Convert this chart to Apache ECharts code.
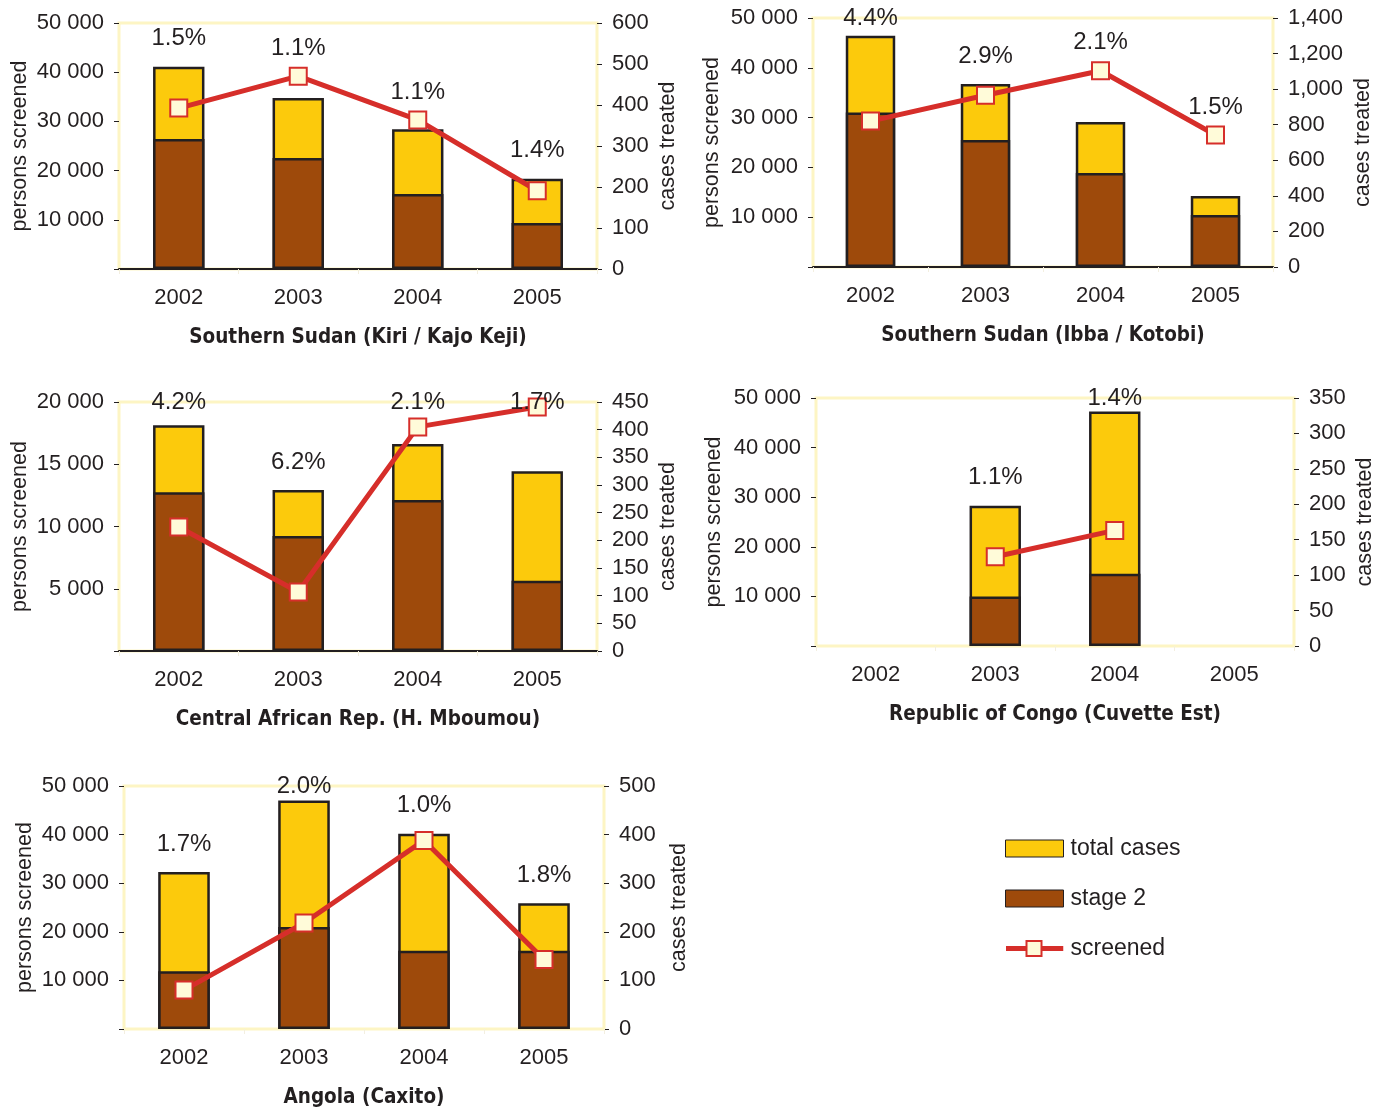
<!DOCTYPE html>
<html>
<head>
<meta charset="utf-8">
<script src="https://cdn.jsdelivr.net/npm/echarts@6/dist/echarts.min.js"></script>
<style>
html,body{margin:0;padding:0;background:#fff;}
#chart{width:1386px;height:1109px;}
</style>
</head>
<body>
<div id="chart"></div>
<script>
// ---------- DATA ----------
const years = ['2002', '2003', '2004', '2005'];

// Southern Sudan (Kiri / Kajo Keji)
const kiriTotal = [493, 417, 341, 220];
const kiriStage2 = [317, 271, 183, 112];
const kiriScreened = [32700, 39200, 30300, 15900];
const kiriPct = ['1.5%', '1.1%', '1.1%', '1.4%'];

// Southern Sudan (Ibba / Kotobi)
const ibbaTotal = [1300, 1029, 815, 399];
const ibbaStage2 = [868, 714, 528, 292];
const ibbaScreened = [29300, 34500, 39400, 26500];
const ibbaPct = ['4.4%', '2.9%', '2.1%', '1.5%'];

// Central African Rep. (H. Mboumou)
const carTotal = [408, 291, 374, 325];
const carStage2 = [287, 208, 273, 127];
const carScreened = [9960, 4740, 18000, 19600];
const carPct = ['4.2%', '6.2%', '2.1%', '1.7%'];

// Republic of Congo (Cuvette Est)
const congoTotal = [null, 198, 331, null];
const congoStage2 = [null, 70, 102, null];
const congoScreened = [null, 18000, 23300, null];
const congoPct = ['', '1.1%', '1.4%', ''];

// Angola (Caxito)
const angolaTotal = [323, 470, 402, 259];
const angolaStage2 = [119, 210, 161, 161];
const angolaScreened = [8000, 21800, 38800, 14300];
const angolaPct = ['1.7%', '2.0%', '1.0%', '1.8%'];

// axis scales: [max, interval]
const screenedAxes = [[50000, 10000], [50000, 10000], [20000, 5000], [50000, 10000], [50000, 10000]];
const casesAxes = [[600, 100], [1400, 200], [450, 50], [350, 50], [500, 100]];
const panelTitles = ['Southern Sudan (Kiri / Kajo Keji)', 'Southern Sudan (Ibba / Kotobi)',
  'Central African Rep. (H. Mboumou)', 'Republic of Congo (Cuvette Est)', 'Angola (Caxito)'];

// ---------- STYLE / LAYOUT ----------
const FONT = 'Liberation Sans, Arial, sans-serif';
const TXT = '#231f20';
const YELLOW = '#fcca0c';
const BROWN = '#9e4a0b';
const RED = '#d62e2a';
const CREAM = '#fffbd9';
const FRAME = '#fdf5c4';

const layouts = [
  {left: 119, top: 23, width: 478, height: 246, blackAxis: true, lGap: 88, rGap: 60},
  {left: 813, top: 18, width: 460, height: 249, blackAxis: true, lGap: 90, rGap: 79},
  {left: 119, top: 402, width: 478, height: 249, blackAxis: true, lGap: 88, rGap: 60},
  {left: 816, top: 398, width: 478, height: 248, blackAxis: false, lGap: 91, rGap: 60},
  {left: 124, top: 786, width: 480, height: 245, blackAxis: false, lGap: 88, rGap: 64}
];

const panels = [
  {total: kiriTotal, stage2: kiriStage2, screened: kiriScreened, pct: kiriPct},
  {total: ibbaTotal, stage2: ibbaStage2, screened: ibbaScreened, pct: ibbaPct},
  {total: carTotal, stage2: carStage2, screened: carScreened, pct: carPct},
  {total: congoTotal, stage2: congoStage2, screened: congoScreened, pct: congoPct},
  {total: angolaTotal, stage2: angolaStage2, screened: angolaScreened, pct: angolaPct}
];

function spaceThousands(v) {
  if (v === 0) return '';
  return String(v).replace(/\B(?=(\d{3})+(?!\d))/g, ' ');
}
function commaThousands(v) {
  return String(v).replace(/\B(?=(\d{3})+(?!\d))/g, ',');
}

const grids = [], xAxes = [], yAxes = [], series = [];

panels.forEach(function (p, k) {
  const L = layouts[k];
  grids.push({
    left: L.left, top: L.top, width: L.width, height: L.height,
    show: true, borderColor: FRAME, borderWidth: 3, backgroundColor: 'transparent'
  });
  xAxes.push({
    type: 'category', gridIndex: k, data: years, boundaryGap: true,
    name: panelTitles[k], nameLocation: 'middle', nameGap: 58,
    nameTextStyle: {fontFamily: 'DejaVu Sans Condensed, ' + FONT, fontWeight: 'bold', fontSize: 20.5, color: TXT},
    axisLine: {show: L.blackAxis, onZero: false, lineStyle: {color: '#231f20', width: 2}},
    axisTick: {show: true, alignWithLabel: false, length: 5, lineStyle: {color: '#f3efe0'}},
    axisLabel: {fontFamily: FONT, fontSize: 22, color: TXT, margin: 18},
    splitLine: {show: false}
  });
  const sa = screenedAxes[k], ca = casesAxes[k];
  yAxes.push({
    type: 'value', gridIndex: k, position: 'left', min: 0, max: sa[0], interval: sa[1],
    name: 'persons screened', nameLocation: 'middle', nameGap: L.lGap,
    nameTextStyle: {fontFamily: FONT, fontSize: 21.5, color: TXT},
    axisLine: {show: false},
    axisTick: {show: true, length: 5, lineStyle: {color: '#231f20'}},
    axisLabel: {fontFamily: FONT, fontSize: 22, color: TXT, margin: 15, formatter: spaceThousands},
    splitLine: {show: false}
  });
  yAxes.push({
    type: 'value', gridIndex: k, position: 'right', min: 0, max: ca[0], interval: ca[1],
    name: 'cases treated', nameLocation: 'middle', nameGap: L.rGap,
    nameTextStyle: {fontFamily: FONT, fontSize: 21.5, color: TXT},
    axisLine: {show: false},
    axisTick: {show: true, length: 5, lineStyle: {color: '#231f20'}},
    axisLabel: {fontFamily: FONT, fontSize: 22, color: TXT, margin: 15,
      formatter: ca[0] >= 1000 ? commaThousands : function (v) { return String(v); }},
    splitLine: {show: false}
  });

  series.push({
    name: 'total cases', type: 'bar', xAxisIndex: k, yAxisIndex: 2 * k + 1,
    data: p.total, barWidth: '43%', barGap: '-100%',
    itemStyle: {color: YELLOW, borderColor: '#231f20', borderWidth: 2.5},
    z: 2, silent: true
  });
  series.push({
    name: 'stage 2', type: 'bar', xAxisIndex: k, yAxisIndex: 2 * k + 1,
    data: p.stage2, barWidth: '43%', barGap: '-100%',
    itemStyle: {color: BROWN, borderColor: '#231f20', borderWidth: 2.5},
    z: 3, silent: true
  });
  series.push({
    name: 'screened', type: 'line', xAxisIndex: k, yAxisIndex: 2 * k,
    data: p.screened, connectNulls: false,
    symbol: 'rect', symbolSize: 17, showAllSymbol: true,
    lineStyle: {color: RED, width: 5},
    itemStyle: {color: CREAM, borderColor: RED, borderWidth: 2},
    z: 5, silent: true
  });
  // percentage labels: placed above the higher of bar top and line point, kept inside the plot
  const ratio = ca[0] / sa[0];
  series.push({
    type: 'custom', xAxisIndex: k, yAxisIndex: 2 * k + 1, silent: true, z: 6,
    data: years.map(function (y, i) {
      return [i, p.total[i] == null ? 0 : p.total[i], p.screened[i] == null ? 0 : p.screened[i] * ratio];
    }),
    renderItem: function (params, api) {
      const i = params.dataIndex;
      const txt = p.pct[i];
      if (!txt) return null;
      const barTop = api.coord([i, api.value(1)]);
      const ptTop = api.coord([i, api.value(2)]);
      const topY = Math.min(barTop[1], ptTop[1]);
      const cs = params.coordSys;
      const y = Math.max(topY - 28, cs.y);
      return {
        type: 'text',
        style: {
          text: txt, x: barTop[0], y: y,
          align: 'center', verticalAlign: 'middle',
          textAlign: 'center', textVerticalAlign: 'middle',
          font: '24px ' + FONT, fill: TXT
        }
      };
    }
  });
});

// legend icon for the line series (line through a square marker)
const screenedIconSvg =
  '<svg xmlns="http://www.w3.org/2000/svg" width="58" height="17" viewBox="0 0 58 17">' +
  '<line x1="0" y1="8.5" x2="58" y2="8.5" stroke="' + RED + '" stroke-width="5"/>' +
  '<rect x="21" y="1" width="15" height="15" fill="' + CREAM + '" stroke="' + RED + '" stroke-width="2"/>' +
  '</svg>';
const screenedIcon = 'image://data:image/svg+xml;charset=utf-8,' + encodeURIComponent(screenedIconSvg);

const chart = echarts.init(document.getElementById('chart'), null, {renderer: 'canvas'});
chart.setOption({
  animation: false,
  backgroundColor: '#ffffff',
  grid: grids,
  xAxis: xAxes,
  yAxis: yAxes,
  legend: {
    orient: 'vertical', left: 1000, top: 832, itemWidth: 58, itemHeight: 17, itemGap: 27,
    selectedMode: false,
    textStyle: {fontFamily: FONT, fontSize: 23, color: TXT, padding: [0, 0, 0, 2]},
    data: [
      {name: 'total cases', icon: 'rect', itemStyle: {borderWidth: 1}},
      {name: 'stage 2', icon: 'rect', itemStyle: {borderWidth: 1}},
      {name: 'screened', icon: screenedIcon}
    ]
  },
  series: series
});
</script>
</body>
</html>
